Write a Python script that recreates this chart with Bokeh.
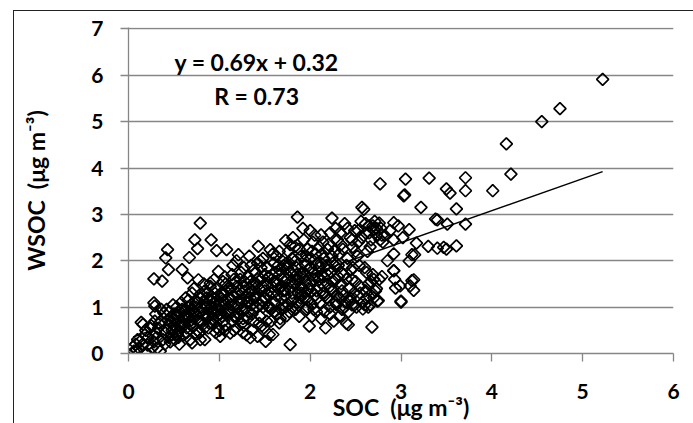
import math
from bokeh.plotting import figure
from bokeh.models import FixedTicker, InlineStyleSheet
from bokeh.core.properties import value
from bokeh.embed import file_html
from bokeh.resources import INLINE

# ---- data ----
soc = [
 0.05,0.06,0.08,0.10,0.12,0.14,0.15,0.16,0.18,0.20,0.22,0.24,0.26,0.28,0.30,
 0.09,0.13,0.19,0.21,0.25,0.27,0.29,0.28,0.29,0.28,
 0.30,0.32,0.33,0.35,0.36,0.37,0.38,0.39,0.40,0.41,0.42,0.43,0.44,0.45,0.46,0.47,0.48,0.49,0.50,
 0.31,0.34,0.36,0.40,0.43,0.45,0.48,0.50,
 0.51,0.52,0.53,0.54,0.55,0.56,0.57,0.58,0.59,0.60,0.61,0.62,0.63,0.64,0.65,0.66,0.67,0.68,0.69,0.70,
 0.52,0.55,0.58,0.60,0.62,0.64,0.66,0.68,0.70,0.70,
 0.71,0.72,0.73,0.74,0.75,0.76,0.77,0.78,0.79,0.80,0.81,0.82,0.83,0.84,0.85,0.86,0.87,0.88,0.89,0.90,
 0.72,0.74,0.76,0.78,0.80,0.82,0.84,0.86,0.88,0.90,0.79,0.83,
 0.91,0.92,0.93,0.94,0.95,0.96,0.97,0.98,0.99,1.00,1.01,1.02,1.03,1.04,1.05,1.06,1.07,1.08,1.09,1.10,
 0.91,0.93,0.95,0.97,0.99,1.01,1.03,1.05,1.07,1.09,1.00,1.04,0.90,1.06,
 1.11,1.12,1.13,1.14,1.15,1.16,1.17,1.18,1.19,1.20,1.21,1.22,1.23,1.24,1.25,1.26,1.27,1.28,1.29,1.30,
 1.12,1.14,1.16,1.18,1.20,1.22,1.24,1.26,1.28,1.30,1.15,1.25,1.19,1.27,
 1.31,1.32,1.33,1.34,1.35,1.36,1.37,1.38,1.39,1.40,1.41,1.42,1.43,1.44,1.45,1.46,1.47,1.48,1.49,1.50,
 1.32,1.34,1.36,1.38,1.40,1.42,1.44,1.46,1.48,1.50,1.33,1.37,1.41,1.45,1.49,
 1.51,1.52,1.53,1.54,1.55,1.56,1.57,1.58,1.59,1.60,1.61,1.62,1.63,1.64,1.65,1.66,1.67,1.68,1.69,1.70,
 1.52,1.54,1.56,1.58,1.60,1.62,1.64,1.66,1.68,1.70,1.55,1.65,1.59,1.69,
 1.71,1.72,1.73,1.74,1.75,1.76,1.77,1.78,1.79,1.80,1.81,1.82,1.83,1.84,1.85,1.86,1.87,1.88,1.89,1.90,
 1.72,1.74,1.76,1.78,1.80,1.82,1.84,1.86,1.88,1.90,1.73,1.77,1.81,1.85,1.89,
 1.91,1.92,1.93,1.94,1.95,1.96,1.97,1.98,1.99,2.00,2.01,2.02,2.03,2.04,2.05,2.06,2.07,2.08,2.09,2.10,
 1.92,1.94,1.96,1.98,2.00,2.02,2.04,2.06,2.08,2.10,1.93,1.97,2.01,2.05,2.09,
 2.11,2.12,2.13,2.14,2.15,2.16,2.17,2.18,2.19,2.20,2.21,2.22,2.23,2.24,2.25,2.26,2.27,2.28,2.29,2.30,
 2.12,2.14,2.16,2.18,2.20,2.22,2.24,2.26,2.28,2.30,2.15,2.19,2.23,2.27,
 2.31,2.32,2.33,2.34,2.35,2.36,2.37,2.38,2.39,2.40,2.41,2.42,2.43,2.44,2.45,2.46,2.47,2.48,2.49,2.50,
 2.32,2.35,2.38,2.41,2.44,2.47,2.50,2.34,2.40,2.46,
 2.51,2.53,2.55,2.57,2.58,2.59,2.60,2.61,2.62,2.63,2.64,2.65,2.66,2.67,2.68,2.69,2.70,2.71,2.72,2.73,
 2.74,2.75,2.76,2.77,2.78,2.79,2.80,2.52,2.56,2.62,2.66,2.70,2.54,
 2.92,2.92,2.92,2.94,3.00,2.99,3.12,3.14,3.10,3.09,3.09,3.12,3.15,3.17,3.03,3.05,3.04,3.22,3.31,3.30,
 3.38,3.40,3.40,3.47,3.50,3.50,3.54,3.51,3.61,3.61,3.71,3.71,3.71,4.01,4.16,4.21,4.55,4.75,5.22,
 2.92,2.82,2.85,2.88,2.93,3.02,2.97,3.00,3.14,2.92,
 0.42,0.46,0.50,0.53,0.56,0.59,0.62,0.65,0.68,0.71,0.74,0.77,0.80,0.83,0.86,0.89,0.44,0.54,0.64,0.74,0.84,
 0.92,0.95,0.98,1.01,1.04,1.07,1.10,1.13,1.16,1.19,1.22,1.25,1.28,1.31,1.34,1.37,1.40,0.96,1.06,1.16,1.26,1.36,
 1.42,1.45,1.48,1.51,1.54,1.57,1.60,1.63,1.66,1.69,1.72,1.75,1.78,1.81,1.84,1.87,1.90,1.47,1.57,1.67,1.77,1.87,
 1.92,1.95,1.98,2.01,2.04,2.07,2.10,2.13,2.16,2.19,2.22,2.25,2.28,2.31,2.34,2.37,2.40,2.43,2.46,2.49,2.02,2.12,2.22,2.32,2.42,
 2.52,2.55,2.58,2.61,2.64,2.67,2.70,2.73,2.76,2.79,2.53,2.57,2.61,2.65,2.69,2.73,2.77,2.60,2.68,
]
wsoc = [
 0.14,0.05,0.20,0.30,0.10,0.67,0.19,0.63,0.40,0.01,0.35,0.55,0.12,0.25,0.45,
 0.08,0.26,0.50,0.18,0.60,0.38,0.70,1.61,1.02,1.09,
 0.85,0.12,0.55,0.05,0.70,1.56,0.30,0.87,0.45,2.06,0.95,2.24,1.81,0.62,0.25,0.78,0.40,1.05,0.60,
 0.35,0.65,0.95,0.20,0.72,0.90,0.50,0.85,
 0.30,0.72,1.00,0.45,0.88,0.20,0.60,1.10,1.81,0.75,0.40,0.95,1.20,0.55,1.63,0.80,2.07,0.30,1.05,0.23,
 0.55,0.35,0.65,0.90,0.62,0.85,1.15,0.70,1.30,0.95,
 0.60,1.40,2.45,0.85,1.10,2.26,1.59,0.45,2.81,0.70,1.25,0.95,1.50,0.30,1.05,0.75,1.30,0.55,1.15,0.90,
 0.75,1.00,0.50,0.90,1.20,0.62,1.35,1.00,0.80,1.45,0.30,1.10,
 2.45,0.65,1.20,1.59,0.85,1.40,2.22,0.55,1.77,1.05,0.37,1.30,0.80,1.55,1.10,0.60,1.35,2.24,0.90,1.20,
 1.00,0.75,1.10,0.95,1.25,0.85,1.00,0.70,1.50,1.45,0.50,1.15,1.52,1.65,
 0.95,0.44,1.40,1.70,0.70,1.25,1.05,1.55,0.55,1.30,2.13,0.85,1.60,1.10,0.65,1.45,1.85,0.95,1.20,0.40,
 1.15,0.90,1.60,0.80,1.00,1.35,1.75,0.75,1.55,1.10,1.90,1.30,2.00,0.60,
 1.65,0.90,1.30,0.34,1.90,1.05,1.50,0.70,1.20,1.75,1.00,0.37,2.31,1.40,0.80,1.60,1.15,2.05,0.55,1.35,
 1.10,1.55,0.85,1.80,1.25,1.95,0.65,1.85,1.00,1.70,2.10,1.35,1.50,2.00,1.20,
 0.26,1.50,1.85,1.00,0.41,2.24,1.30,1.70,0.41,1.95,1.10,1.55,2.10,0.85,1.40,0.66,1.80,1.20,2.00,1.60,
 0.70,1.25,1.00,1.45,0.90,1.75,1.50,2.20,0.95,1.35,1.65,1.90,2.15,1.05,
 1.90,1.25,2.44,0.81,1.60,2.20,1.40,0.19,1.75,2.05,1.15,1.50,2.30,0.95,1.85,2.94,1.30,0.80,1.65,2.10,
 1.55,1.95,1.05,2.35,1.30,1.80,1.60,1.10,2.25,1.45,1.00,1.95,2.50,1.70,1.20,
 1.75,2.70,1.20,2.00,1.55,0.95,2.25,1.40,0.59,2.65,1.85,1.05,2.40,1.60,1.25,2.15,0.90,1.95,1.45,2.30,
 1.65,1.30,2.10,1.80,1.50,2.20,0.95,1.70,1.20,1.85,2.45,1.00,1.35,2.55,1.65,
 1.10,2.56,1.70,1.30,2.05,0.90,0.55,1.90,1.50,2.35,1.15,2.60,1.75,2.92,1.35,0.70,2.20,1.60,1.05,2.45,
 1.95,2.40,1.45,1.20,1.80,1.00,2.10,1.55,2.70,1.25,1.65,2.25,1.40,1.90,
 1.90,1.20,2.60,1.50,0.95,2.25,1.70,2.80,1.10,0.65,2.05,0.62,1.40,2.50,1.80,1.05,2.30,1.30,2.65,1.55,
 2.15,1.35,1.00,2.70,1.20,1.85,2.20,1.75,1.60,2.45,
 1.00,2.40,1.30,3.15,0.96,3.11,1.85,2.60,1.20,2.20,1.50,2.75,1.05,2.45,0.57,1.70,2.67,2.85,1.35,2.55,
 1.13,1.14,2.81,3.66,2.70,1.66,2.40,2.10,2.85,1.75,2.30,1.60,1.90,
 2.45,2.15,1.79,1.41,1.13,1.46,1.57,1.36,1.46,1.99,2.67,2.13,2.13,2.38,3.40,3.76,3.42,3.15,3.78,2.31,
 2.90,2.88,2.27,2.29,2.25,3.55,3.46,2.79,3.12,2.32,3.79,3.51,2.79,3.51,4.52,3.87,5.00,5.28,5.91,
 2.82,2.55,2.00,2.65,1.60,2.50,2.75,1.11,1.59,1.78,
 0.55,0.68,0.75,0.85,0.50,0.95,0.78,1.00,0.62,0.88,1.15,0.70,1.00,0.85,1.20,0.65,0.35,0.40,0.45,0.40,0.55,
 0.90,1.30,1.15,0.75,1.25,0.85,1.40,1.05,0.80,1.45,1.15,0.95,1.35,0.75,1.20,0.95,1.50,0.45,0.50,0.50,0.45,0.50,
 1.60,1.05,1.45,1.20,1.65,0.95,1.55,1.25,1.70,1.45,1.35,1.85,1.55,1.00,2.00,1.60,1.30,0.60,0.70,0.75,0.90,1.05,
 1.40,1.90,1.15,2.05,1.75,1.35,1.60,2.15,1.25,1.70,1.45,1.95,1.10,1.65,2.35,1.25,1.90,1.15,1.60,1.05,0.80,0.75,0.85,0.80,0.90,
 1.25,1.45,1.10,1.35,1.00,1.55,1.20,1.40,1.60,2.55,2.65,2.50,2.80,2.60,2.75,2.70,2.45,1.05,1.30,
]
fit_slope = 0.69
fit_intercept = 0.32
fit_text = "y = 0.69x + 0.32"
r_text = "R = 0.73"
x_ticks = [0, 1, 2, 3, 4, 5, 6]
y_ticks = [0, 1, 2, 3, 4, 5, 6, 7]
x_title = "SOC\u00a0\u00a0(μg m⁻³)"
y_title = "WSOC\u00a0\u00a0(μg m⁻³)"

FONT = "Lato"
GRAY = "#868686"

border_css = InlineStyleSheet(css="""
:host { position: relative; }
:host::after {
  content: ''; position: absolute; left: 13px; top: 10px; right: 0; bottom: 0;
  border-left: 1.3px solid #222; border-top: 1.3px solid #222;
  pointer-events: none; z-index: 10;
}
""")

p = figure(width=693, height=423, x_range=(0, 6), y_range=(0, 7.03),
           min_border_left=128, min_border_right=20, min_border_top=27,
           min_border_bottom=69, toolbar_location=None, output_backend="svg")
p.stylesheets = [border_css]
p.outline_line_color = None
p.background_fill_color = "white"
p.border_fill_color = "white"

p.xgrid.visible = False
p.ygrid.grid_line_color = GRAY
p.ygrid.grid_line_width = 1.3
p.xaxis.ticker = FixedTicker(ticks=x_ticks)
p.yaxis.ticker = FixedTicker(ticks=y_ticks)
for ax in (p.xaxis, p.yaxis):
    ax.axis_line_color = GRAY
    ax.axis_line_width = 1.3
    ax.major_tick_line_color = GRAY
    ax.major_tick_line_width = 1.3
    ax.major_tick_out = 8
    ax.major_tick_in = 0
    ax.minor_tick_line_color = None
    ax.major_label_text_font = FONT
    ax.major_label_text_font_style = "bold"
    ax.major_label_text_font_size = "21px"
    ax.major_label_text_color = "black"
    ax.axis_label_text_font = FONT
    ax.axis_label_text_font_style = "bold"
    ax.axis_label_text_font_size = "23px"
    ax.axis_label_text_color = "black"
p.yaxis.major_label_standoff = 17
p.xaxis.major_label_standoff = 22
p.xaxis.axis_label = x_title
p.yaxis.axis_label = y_title
p.xaxis.axis_label_standoff = -9
p.yaxis.axis_label_standoff = 38

fit_x = [min(soc), max(soc)]
fit_y = [fit_slope * v + fit_intercept for v in fit_x]
p.line(fit_x, fit_y, line_color="black", line_width=1.5)

p.scatter(soc, wsoc, marker="square", angle=math.pi / 4, size=8.5,
          fill_color=None, line_color="black", line_width=1.7)

p.text(x=[1.41, 1.41], y=[6.28, 5.55], text=[fit_text, r_text],
       text_font=value(FONT), text_font_style="bold", text_font_size="23px",
       text_align="center", text_baseline="middle", text_color="black")

open("out.html", "w").write(file_html(p, INLINE))
